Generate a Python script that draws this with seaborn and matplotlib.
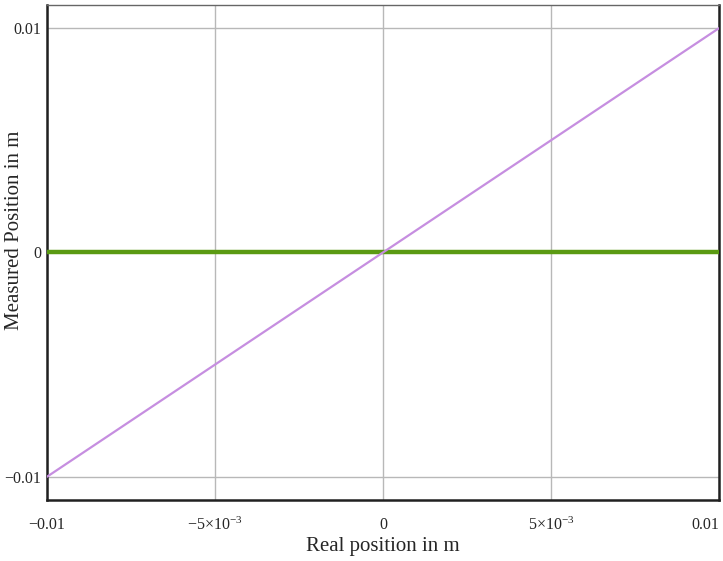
import numpy as np
import pandas as pd
import matplotlib
matplotlib.use("Agg")
import matplotlib.pyplot as plt
import seaborn as sns

# data
real_pos = [-0.01, -0.0075, -0.005, -0.0025, 0.0, 0.0025, 0.005, 0.0075, 0.01]
measured_pos = [-0.01, -0.0075, -0.005, -0.0025, 0.0, 0.0025, 0.005, 0.0075, 0.01]
zero_line = [0, 0, 0, 0, 0, 0, 0, 0, 0]

x_ticks = [-0.01, -0.005, 0, 0.005, 0.01]
x_tick_labels = ["\u22120.01", "$\u22125{\\times}10^{\u22123}$", "0", "$5{\\times}10^{\u22123}$", "0.01"]
y_ticks = [-0.01, 0, 0.01]
y_tick_labels = ["\u22120.01", "0", "0.01"]

df = pd.DataFrame({"real": real_pos, "measured": measured_pos, "zero": zero_line})

sns.set_style("white")
plt.rcParams["font.family"] = ["Liberation Serif", "DejaVu Serif"]
plt.rcParams["mathtext.fontset"] = "custom"
plt.rcParams["mathtext.rm"] = "Liberation Serif"
plt.rcParams["mathtext.it"] = "Liberation Serif"
plt.rcParams["mathtext.bf"] = "Liberation Serif:bold"

fig = plt.figure(figsize=(7.23, 5.61), dpi=100)
ax = fig.add_axes([0.065, 0.109, 0.9295, 0.882])

sns.lineplot(data=df, x="real", y="zero", ax=ax, color="#5a9a12", lw=3.2, zorder=3)
sns.lineplot(data=df, x="real", y="measured", ax=ax, color="#c68ee0", lw=1.6, zorder=4)

ax.set_xlim(-0.01, 0.01)
ax.set_ylim(-0.01103, 0.01103)
ax.set_xticks(x_ticks)
ax.set_xticklabels(x_tick_labels, fontsize=11.5)
ax.set_yticks(y_ticks)
ax.set_yticklabels(y_tick_labels, fontsize=11.5)
ax.get_xticklabels()[-1].set_horizontalalignment("right")
ax.tick_params(axis="both", length=0)
ax.tick_params(axis="x", pad=12)
ax.tick_params(axis="y", pad=4)
ax.grid(True, color="#b8b8b8", lw=1)

for side in ["left", "bottom", "right"]:
    ax.spines[side].set_color("#202020")
    ax.spines[side].set_linewidth(1.8)
ax.spines["top"].set_color("#666666")
ax.spines["top"].set_linewidth(1.0)

ax.set_xlabel("Real position in m", fontsize=15, labelpad=2)
ax.set_ylabel("Measured Position in m", fontsize=15)
ax.yaxis.set_label_coords(-0.034, 0.545)

plt.savefig("out.png", dpi=100)
